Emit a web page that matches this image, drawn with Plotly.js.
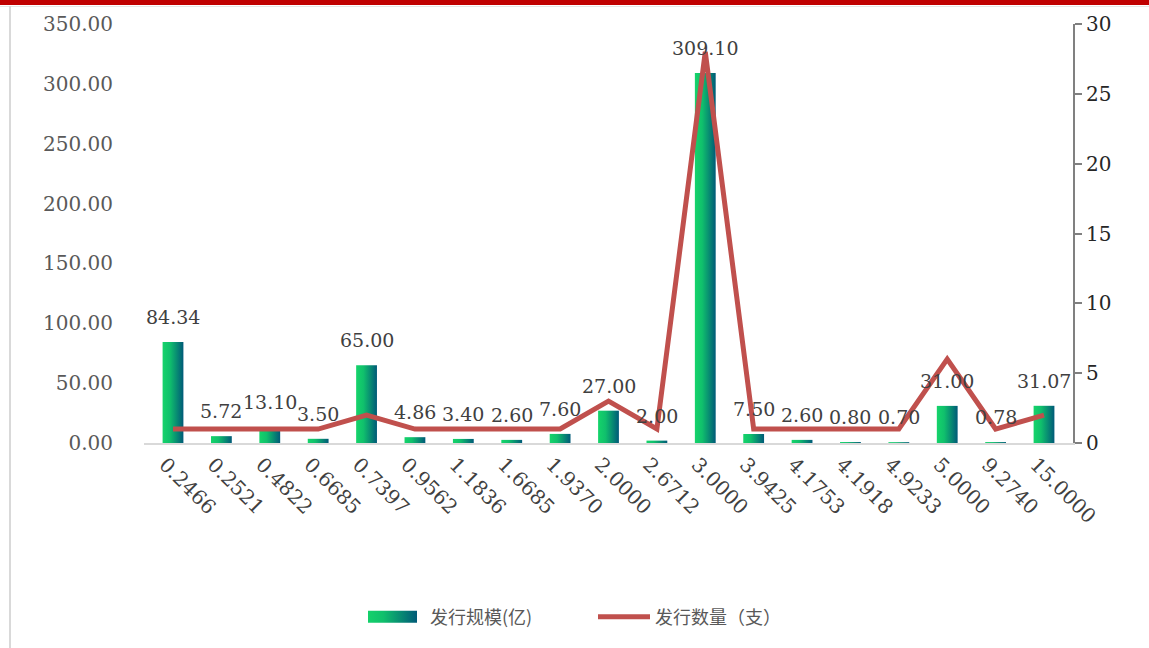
<!DOCTYPE html>
<html>
<head>
<meta charset="utf-8">
<script src="https://cdn.plot.ly/plotly-3.0.1.min.js"></script>
<style>
html,body{margin:0;padding:0;background:#fff;}
#chart{width:1149px;height:648px;}
</style>
</head>
<body>
<div id="chart"></div>
<script>
// Data
const categories = ["0.2466","0.2521","0.4822","0.6685","0.7397","0.9562","1.1836","1.6685","1.9370","2.0000","2.6712","3.0000","3.9425","4.1753","4.1918","4.9233","5.0000","9.2740","15.0000"];
const issueSize = [84.34,5.72,13.10,3.50,65.00,4.86,3.40,2.60,7.60,27.00,2.00,309.10,7.50,2.60,0.80,0.70,31.00,0.78,31.07];
const issueCount = [1,1,1,1,2,1,1,1,1,3,1,28,1,1,1,1,6,1,2];
const seriesNames = ["发行规模(亿)","发行数量（支）"];

const FONT = '"DejaVu Serif", "Liberation Serif", serif';
const L = 144, R = 1073, T = 24, B = 443;
const W = R - L, H = B - T;
const px = x => (x - L) / W;
const py = y => (B - y) / H;

const barTrace = {
  type: 'bar',
  name: seriesNames[0],
  x: categories,
  y: issueSize,
  marker: {color: '#12a870'},
  width: 0.43,
  hoverinfo: 'x+y'
};
const lineTrace = {
  type: 'scatter',
  mode: 'lines',
  name: seriesNames[1],
  x: categories,
  y: issueCount,
  yaxis: 'y2',
  line: {color: '#c0504d', width: 5},
  cliponaxis: false
};

// value labels above bars (x given as category index)
const labelAnnotations = categories.map((c, i) => ({
  x: i, y: issueSize[i], xref: 'x', yref: 'y',
  text: issueSize[i].toFixed(2),
  showarrow: false, yanchor: 'bottom', yshift: 12,
  font: {family: FONT, size: 19, color: '#404040'}
}));

const layout = {
  width: 1149, height: 648,
  margin: {l: L, r: 1149 - R, t: T, b: 648 - B, pad: 0},
  paper_bgcolor: '#ffffff',
  plot_bgcolor: '#ffffff',
  font: {family: FONT, color: '#404040'},
  showlegend: true,
  legend: {
    orientation: 'h', x: px(368), xanchor: 'left', y: py(617), yanchor: 'middle',
    font: {family: '"Noto Sans CJK SC", sans-serif', size: 18, color: '#595959'},
    entrywidth: 158, itemwidth: 52, traceorder: 'normal'
  },
  xaxis: {
    type: 'category',
    showline: true, linecolor: '#d9d9d9', linewidth: 2,
    ticks: '', showgrid: false, zeroline: false,
    tickangle: 45,
    ticklabelshift: -8,
    tickfont: {family: FONT, size: 20, color: '#404040'},
    automargin: false,
    fixedrange: true
  },
  yaxis: {
    range: [0, 350], dtick: 50, tickformat: '.2f',
    showline: false, showgrid: false, zeroline: false, ticks: '',
    ticklabelstandoff: 30,
    tickfont: {family: FONT, size: 20, color: '#595959'},
    automargin: false,
    fixedrange: true
  },
  yaxis2: {
    overlaying: 'y', side: 'right',
    range: [0, 30], dtick: 5,
    showline: true, linecolor: '#808080', linewidth: 2,
    ticks: 'outside', ticklen: 7, tickwidth: 2, tickcolor: '#808080',
    showgrid: false, zeroline: false,
    tickfont: {family: FONT, size: 20, color: '#262626'},
    automargin: false,
    fixedrange: true
  },
  bargap: 0.57,
  annotations: labelAnnotations,
  shapes: [
    {type: 'rect', xref: 'paper', yref: 'paper', x0: px(0), x1: px(1149), y0: py(0), y1: py(5),
     fillcolor: '#c00000', line: {width: 0}, layer: 'above'},
    {type: 'line', xref: 'paper', yref: 'paper', x0: px(0), x1: px(1149), y0: py(6.5), y1: py(6.5),
     line: {color: '#e6e6e6', width: 1}},
    {type: 'line', xref: 'paper', yref: 'paper', x0: px(10), x1: px(10), y0: py(6), y1: py(648),
     line: {color: '#d9d9d9', width: 2}}
  ]
};

function applyGradient(gd) {
  const svg = gd.querySelector('svg.main-svg');
  const ns = 'http://www.w3.org/2000/svg';
  let defs = svg.querySelector('defs');
  if (!defs) { defs = document.createElementNS(ns, 'defs'); svg.insertBefore(defs, svg.firstChild); }
  if (!svg.querySelector('#barGrad')) {
    const g = document.createElementNS(ns, 'linearGradient');
    g.setAttribute('id', 'barGrad');
    g.setAttribute('x1', '0'); g.setAttribute('y1', '0');
    g.setAttribute('x2', '1'); g.setAttribute('y2', '0');
    [['0', '#15d46a'], ['0.35', '#10c06c'], ['1', '#005a78']].forEach(([o, c]) => {
      const s = document.createElementNS(ns, 'stop');
      s.setAttribute('offset', o); s.setAttribute('stop-color', c);
      g.appendChild(s);
    });
    defs.appendChild(g);
  }
  gd.querySelectorAll('.barlayer .point path').forEach(p => { p.style.fill = 'url(#barGrad)'; });
  const legendTraces = gd.querySelectorAll('.legend .traces');
  if (legendTraces.length) {
    legendTraces[0].querySelectorAll('.legendpoints path').forEach(p => {
      p.setAttribute('d', 'M-34,-6H18V6H-34Z');
      p.style.fill = 'url(#barGrad)';
    });
  }
}

Plotly.newPlot('chart', [barTrace, lineTrace], layout, {displayModeBar: false, staticPlot: true})
  .then(gd => { applyGradient(gd); gd.on('plotly_afterplot', () => applyGradient(gd)); });
</script>
</body>
</html>
